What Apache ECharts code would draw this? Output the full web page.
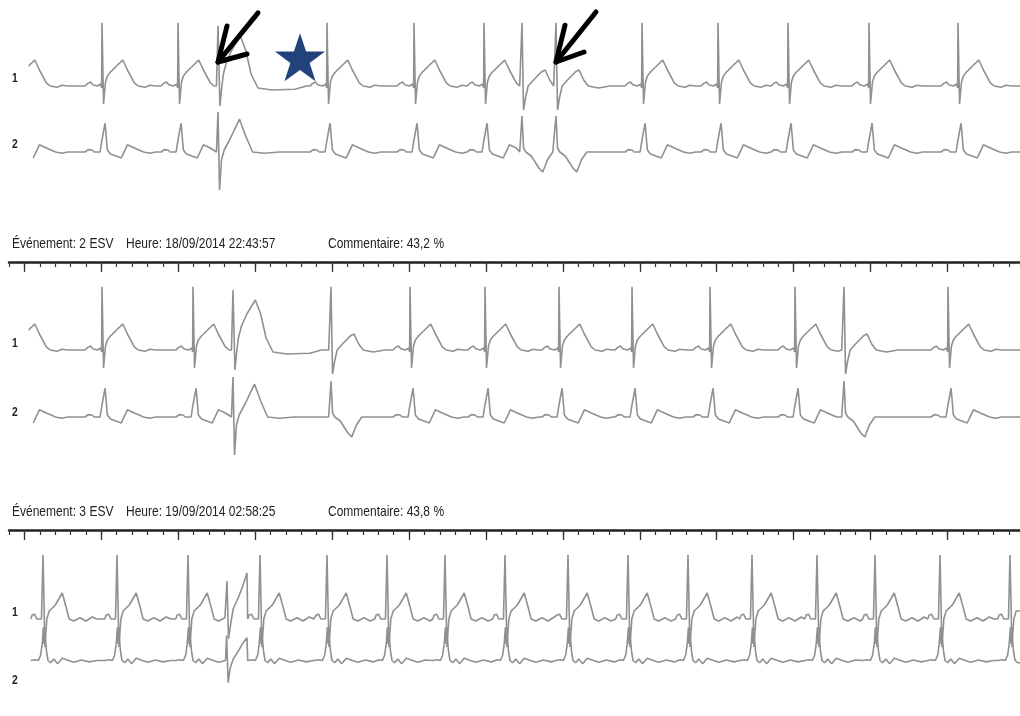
<!DOCTYPE html>
<html>
<head>
<meta charset="utf-8">
<title>Holter - ESV</title>
<script src="https://cdn.jsdelivr.net/npm/echarts@6/dist/echarts.min.js"></script>
<style>
  html, body { margin: 0; padding: 0; background: #fff; }
  #chart { width: 1020px; height: 716px; }
</style>
</head>
<body>
<div id="chart"></div>
<script>
// time in ms along the strip, amplitude in mV
var stripEnd = 13143

var strip1Beats = [65, 1209, 2197, 2717, 4134, 5265, 6175, 6669, 7111, 8229, 9217, 10127, 11180, 12337]
var strip1Types = ['N', 'N', 'N', 'V', 'N', 'N', 'N', 'A', 'A', 'N', 'N', 'N', 'N', 'N']
var strip2Beats = [65, 1209, 2392, 2912, 4186, 5213, 6188, 7150, 8099, 9113, 10218, 10855, 12207]
var strip2Types = ['N', 'N', 'N', 'V', 'A', 'N', 'N', 'N', 'N', 'N', 'N', 'A', 'N']
var strip3Beats = [442, 1404, 2327, 2834, 3263, 4134, 4914, 5668, 6448, 7267, 8047, 8827, 9659, 10504, 11258, 12103, 13013]
var strip3Types = ['N', 'N', 'N', 'V', 'N', 'N', 'N', 'N', 'N', 'N', 'N', 'N', 'N', 'N', 'N', 'N', 'N']
var stripStarts = [208, 234, 208]

// beat shapes [ms from R, mV], strips 1 and 2
var tplN1 = [[-220, 0], [-190, 0.06], [-150, 0.1], [-120, 0.03], [-60, 0], [-15, 0.05], [-5, -0.05], [0, 1.58], [20, -0.45], [45, 0.1], [70, 0.25], [110, 0.35], [190, 0.5], [270, 0.65], [330, 0.4], [420, 0.08], [470, 0], [560, -0.03], [620, 0.02], [700, 0]]
var tplN2 = [[-220, 0], [-180, 0.06], [-130, 0.05], [-100, 0], [-25, 0], [-5, 0.25], [10, 0.2], [40, 0.72], [70, 0.05], [110, -0.05], [250, -0.15], [330, 0.18], [420, 0.1], [540, 0], [620, -0.03], [700, 0]]
var tplV1 = [[-20, 0], [0, 1.5], [25, -0.5], [45, -0.1], [70, 0.3], [110, 0.6], [180, 0.9], [290, 1.25], [360, 0.9], [430, 0.3], [520, -0.05], [700, -0.1], [1000, -0.08], [1150, 0]]
var tplV2 = [[-20, 0], [0, 1.0], [20, -0.95], [45, -0.2], [80, 0.05], [150, 0.3], [280, 0.82], [360, 0.4], [450, 0], [600, -0.03], [800, 0]]
var tplA1 = [[-30, 0], [-10, 0.05], [0, 1.58], [20, -0.6], [45, -0.3], [80, 0], [150, 0.15], [250, 0.35], [300, 0.4], [360, 0.15], [420, 0], [550, -0.05], [700, 0]]
var tplA2 = [[-30, 0], [0, 0.9], [20, 0.1], [50, 0], [120, -0.1], [220, -0.4], [270, -0.5], [330, -0.2], [400, 0], [600, 0]]
// strip 3
var tplN3a = [[-160, 0], [-140, 0.1], [-110, 0.12], [-80, 0], [-20, 0], [0, 1.6], [25, -0.7], [50, 0], [80, 0.2], [160, 0.35], [250, 0.65], [300, 0.3], [340, 0], [400, -0.05], [480, 0.03], [560, -0.05], [640, 0.05], [700, 0]]
var tplN3b = [[-160, 0], [-100, 0.03], [-60, 0], [-30, 0.2], [-10, 0.6], [5, 1.2], [15, 0.6], [28, 0.9], [45, 0.35], [65, 0], [100, -0.08], [140, 0.05], [190, -0.12], [250, 0.08], [330, 0], [400, -0.06], [500, 0.02], [600, -0.05], [700, 0]]
var tplV3a = [[-20, 0], [0, 0.95], [20, -0.5], [50, -0.1], [80, 0.25], [150, 0.55], [200, 0.8], [260, 1.15], [310, 0.5], [370, 0], [450, 0]]
var tplV3b = [[-20, 0], [-5, 0.9], [15, -0.8], [40, -0.3], [80, 0.05], [150, 0.35], [200, 0.6], [260, 0.82], [320, 0.3], [380, 0], [450, 0]]

// tick strip above strips 2 and 3
var majorTicks = [200, 1200, 2200, 3200, 4200, 5200, 6200, 7200, 8200, 9200, 10200, 11200, 12200]

// annotations on strip 1, lead 1
var arrowTails = [[3237, 1.83], [7631, 1.85]]
var arrowTips = [[2717, 0.6], [7111, 0.6]]
var arrowBarbsA = [[2834, 1.5], [7228, 1.52]]
var arrowBarbsB = [[3094, 0.8], [7475, 0.85]]
var starPoint = [3783, 0.72]

var eventLabels = ['Événement: 2 ESV', 'Événement: 3 ESV']
var timeLabels = ['Heure: 18/09/2014 22:43:57', 'Heure: 19/09/2014 02:58:25']
var commentLabels = ['Commentaire: 43,2 %', 'Commentaire: 43,8 %']

function buildTrace (beats, types, shapes, start) {
  var out = []
  for (var i = 0; i < beats.length; i++) {
    var shape = shapes[types[i]]
    var next = i + 1 < beats.length ? beats[i + 1] + shapes[types[i + 1]][0][0] : Infinity
    shape.forEach(function (p) {
      var t = beats[i] + p[0]
      if (t >= start && t < next && t <= stripEnd) out.push([t, p[1]])
    })
  }
  // flat baseline out to the right edge of the strip
  var last = out[out.length - 1]
  if (last[0] < stripEnd) out.push([stripEnd, last[1]])
  return out
}

var lead1Shapes = {N: tplN1, V: tplV1, A: tplA1}
var lead2Shapes = {N: tplN2, V: tplV2, A: tplA2}
var lead1Shapes3 = {N: tplN3a, V: tplV3a}
var lead2Shapes3 = {N: tplN3b, V: tplV3b}

var traces = [
  buildTrace(strip1Beats, strip1Types, lead1Shapes, stripStarts[0]),
  buildTrace(strip1Beats, strip1Types, lead2Shapes, stripStarts[0]),
  buildTrace(strip2Beats, strip2Types, lead1Shapes, stripStarts[1]),
  buildTrace(strip2Beats, strip2Types, lead2Shapes, stripStarts[1]),
  buildTrace(strip3Beats, strip3Types, lead1Shapes3, stripStarts[2]),
  buildTrace(strip3Beats, strip3Types, lead2Shapes3, stripStarts[2])
]

var chart = echarts.init(document.getElementById('chart'))

var traceTops = [6, 72, 270, 337, 539, 605]
var tickTops = [262, 530]
var labelFont = '"Liberation Sans", Arial, sans-serif'

var grid = []
var xAxis = []
var yAxis = []
var series = []

traceTops.forEach(function (top, i) {
  grid.push({left: 9, right: 0, top: top, height: 160})
  xAxis.push({gridIndex: i, type: 'value', min: 0, max: stripEnd, show: false})
  yAxis.push({gridIndex: i, type: 'value', min: -2, max: 2, show: false})
  series.push({
    type: 'line',
    xAxisIndex: i,
    yAxisIndex: i,
    data: traces[i],
    showSymbol: false,
    silent: true,
    lineStyle: {color: '#909090', width: 1.6},
    z: 2
  })
})

tickTops.forEach(function (top, k) {
  var i = traceTops.length + k
  grid.push({left: 9, right: 0, top: top, height: 10})
  xAxis.push({
    gridIndex: i,
    type: 'value',
    position: 'top',
    min: 0,
    max: stripEnd,
    interval: 200,
    axisLine: {show: true, onZero: false, lineStyle: {color: '#222', width: 2.5}},
    axisTick: {show: true, inside: true, length: 5, lineStyle: {color: '#333', width: 1.2}},
    axisLabel: {show: false},
    splitLine: {show: false}
  })
  yAxis.push({gridIndex: i, type: 'value', min: 0, max: 1, show: false})
  series.push({
    type: 'line',
    xAxisIndex: i,
    yAxisIndex: i,
    data: [[0, 0]],
    showSymbol: false,
    silent: true,
    lineStyle: {opacity: 0},
    markLine: {
      silent: true,
      symbol: 'none',
      label: {show: false},
      lineStyle: {color: '#333', type: 'solid', width: 1.3},
      data: majorTicks.map(function (v) { return {xAxis: v} })
    }
  })
})

// arrows and star on strip 1
var arrowLines = []
arrowTips.forEach(function (tip, i) {
  arrowLines.push({coords: [arrowTails[i], tip]})
  arrowLines.push({coords: [arrowBarbsA[i], tip, arrowBarbsB[i]]})
})
series.push({
  type: 'lines',
  coordinateSystem: 'cartesian2d',
  xAxisIndex: 0,
  yAxisIndex: 0,
  polyline: true,
  silent: true,
  data: arrowLines,
  lineStyle: {color: '#000', width: 5, opacity: 1, cap: 'round', join: 'round'},
  z: 5
})
series.push({
  type: 'scatter',
  xAxisIndex: 0,
  yAxisIndex: 0,
  silent: true,
  data: [starPoint],
  symbol: 'path://M12,0.6 L14.9,9.2 L23.9,9.2 L16.6,14.6 L19.4,23.2 L12,17.9 L4.6,23.2 L7.4,14.6 L0.1,9.2 L9.1,9.2 Z',
  symbolSize: [50, 48],
  itemStyle: {color: '#22427c', opacity: 1},
  z: 5
})

var graphic = []
var leadLabelY = [78, 144, 343, 412, 612, 680]
leadLabelY.forEach(function (y, i) {
  graphic.push({
    type: 'text', x: 12, y: y, scaleX: 0.8, silent: true,
    style: {text: i % 2 === 0 ? '1' : '2', font: 'bold 13px ' + labelFont, fill: '#222', verticalAlign: 'middle'}
  })
})
var headerY = [236, 504]
headerY.forEach(function (y, k) {
  var font = '15px ' + labelFont
  graphic.push({type: 'text', x: 12, y: y, scaleX: 0.8, silent: true, style: {text: eventLabels[k], font: font, fill: '#222', verticalAlign: 'top'}})
  graphic.push({type: 'text', x: 126, y: y, scaleX: 0.8, silent: true, style: {text: timeLabels[k], font: font, fill: '#222', verticalAlign: 'top'}})
  graphic.push({type: 'text', x: 328, y: y, scaleX: 0.8, silent: true, style: {text: commentLabels[k], font: font, fill: '#222', verticalAlign: 'top'}})
})

chart.setOption({
  backgroundColor: '#fff',
  animation: false,
  grid: grid,
  xAxis: xAxis,
  yAxis: yAxis,
  series: series,
  graphic: graphic
})
</script>
</body>
</html>
